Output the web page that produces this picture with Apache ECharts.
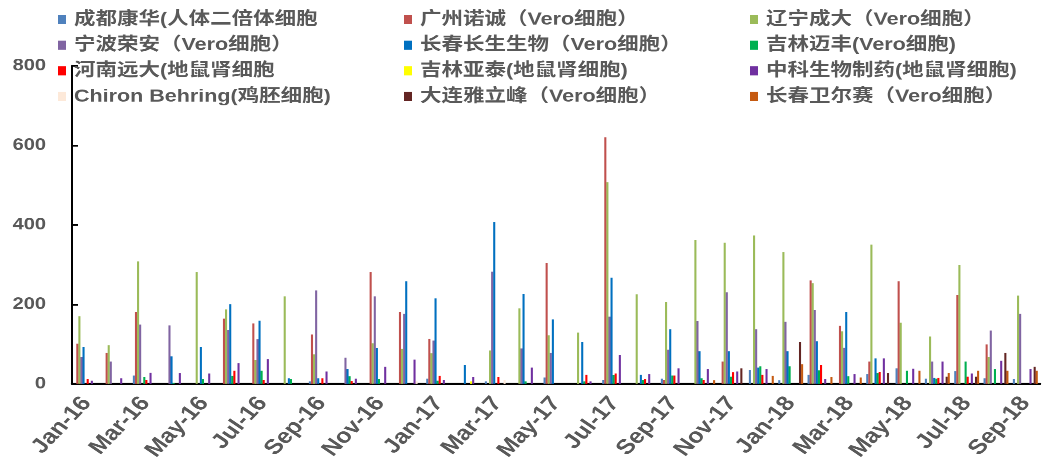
<!DOCTYPE html>
<html>
<head>
<meta charset="utf-8">
<script src="https://cdn.jsdelivr.net/npm/echarts@6/dist/echarts.min.js"></script>
<style>
  html, body { margin: 0; padding: 0; background: #ffffff; }
  #frame { width: 1046px; height: 463px; overflow: hidden; position: relative; }
  /* the chart is laid out taller and pressed down to the frame height */
  #chart { width: 1046px; height: 556px; transform: scale(1, 0.83273); transform-origin: 0 0; }
</style>
</head>
<body>
<div id="frame"><div id="chart"></div></div>
<script>
// Monthly batches released per producer, Jan-16 .. Sep-18
const months = [
  'Jan-16','Feb-16','Mar-16','Apr-16','May-16','Jun-16','Jul-16','Aug-16','Sep-16','Oct-16','Nov-16','Dec-16',
  'Jan-17','Feb-17','Mar-17','Apr-17','May-17','Jun-17','Jul-17','Aug-17','Sep-17','Oct-17','Nov-17','Dec-17',
  'Jan-18','Feb-18','Mar-18','Apr-18','May-18','Jun-18','Jul-18','Aug-18','Sep-18'
];

const yTicks = [0, 200, 400, 600, 800];

const chengduKanghua = [null,null,21,null,null,null,null,null,6,null,null,null,13,null,6,null,16,null,10,null,13,null,null,35,9,23,null,24,39,13,32,14,12];
const guangzhouNuocheng = [101,78,180,null,null,164,152,null,124,null,281,180,113,null,null,null,304,null,620,null,10,null,56,null,null,260,146,56,258,null,224,99,null];
const liaoningChengda = [170,97,308,null,281,187,60,220,74,null,102,88,77,null,84,190,122,129,507,225,206,362,355,373,331,253,132,350,154,119,299,67,222];
const ningboRongan = [67,56,149,147,null,135,112,null,235,66,220,176,109,null,282,89,78,null,169,null,86,158,230,137,156,186,91,null,null,56,null,134,176];
const changchunChangsheng = [92,null,null,69,92,200,159,14,14,37,90,258,215,47,407,226,162,105,267,23,137,82,82,41,82,107,180,64,null,15,null,null,null];
const jilinMaifeng = [null,null,17,3,12,20,33,12,null,19,12,null,8,null,null,6,null,6,22,10,21,14,18,44,44,34,19,27,33,13,56,37,null];
const henanYuanda = [12,null,10,null,null,33,10,null,14,7,null,null,20,null,17,null,null,23,26,12,21,10,29,23,null,47,null,30,null,15,18,null,null];
const jilinYatai = [null,null,null,null,null,null,null,null,null,null,null,null,null,6,null,null,null,null,null,null,null,null,null,null,null,null,null,null,null,null,null,null,null];
const zhongkeBio = [8,14,28,27,26,52,62,null,31,13,43,61,10,17,null,41,null,6,73,24,39,37,31,37,null,12,24,64,38,56,26,58,37];
const chironBehring = [null,null,null,null,null,null,null,null,null,null,null,6,null,null,10,null,null,null,null,null,null,null,null,null,null,null,null,null,null,null,null,null,null];
const dalianYalifeng = [null,null,null,null,null,null,null,null,null,null,null,null,null,null,null,null,null,null,null,null,null,null,39,null,105,null,null,27,null,18,18,78,43];
const changchunWeiersai = [null,null,null,null,null,null,null,null,null,null,null,null,null,null,null,null,null,null,null,null,null,9,null,20,49,17,16,null,33,27,33,33,33];

const seriesNames = [
  '成都康华(人体二倍体细胞', '广州诺诚（Vero细胞）', '辽宁成大（Vero细胞）',
  '宁波荣安（Vero细胞）', '长春长生生物（Vero细胞）', '吉林迈丰(Vero细胞)',
  '河南远大(地鼠肾细胞', '吉林亚泰(地鼠肾细胞)', '中科生物制药(地鼠肾细胞)',
  'Chiron Behring(鸡胚细胞)', '大连雅立峰（Vero细胞）', '长春卫尔赛（Vero细胞）'
];
const seriesValues = [
  chengduKanghua, guangzhouNuocheng, liaoningChengda,
  ningboRongan, changchunChangsheng, jilinMaifeng,
  henanYuanda, jilinYatai, zhongkeBio,
  chironBehring, dalianYalifeng, changchunWeiersai
];
const seriesColors = [
  '#4F81BD', '#C0504D', '#9BBB59',
  '#8064A2', '#0070C0', '#00B050',
  '#FF0000', '#FFFF00', '#7030A0',
  '#FDE9D9', '#632523', '#C55A11'
];

const fontLatinCjk = "Arial, 'Liberation Sans', 'Noto Sans CJK SC', sans-serif";
const grey = '#595959';

// legend laid out in three columns, four rows
function legendColumn(left, col) {
  return {
    orient: 'vertical',
    left: left,
    top: 11.5,
    padding: 0,
    itemGap: 6.8,
    itemWidth: 8,
    itemHeight: 11,
    icon: 'rect',
    selectedMode: false,
    textStyle: {
      fontFamily: fontLatinCjk,
      fontSize: 21.5,
      fontWeight: 'bold',
      color: grey,
      lineHeight: 24,
      padding: [0, 0, 0, 3]
    },
    data: [0, 1, 2, 3].map(r => seriesNames[r * 3 + col])
  };
}

const chart = echarts.init(document.getElementById('chart'), null, { devicePixelRatio: 2 });

chart.setOption({
  animation: false,
  backgroundColor: '#ffffff',
  legend: [legendColumn(58, 0), legendColumn(404, 1), legendColumn(750, 2)],
  grid: { left: 72, right: 6, top: 78.9, bottom: 92.8, containLabel: false },
  xAxis: {
    type: 'category',
    data: months,
    boundaryGap: true,
    axisLine: { lineStyle: { color: '#000000', width: 2.4 } },
    axisTick: { inside: true, interval: 1, length: 7, lineStyle: { color: '#000000', width: 2 } },
    axisLabel: {
      interval: 1,
      rotate: 51,
      margin: 19,
      fontFamily: fontLatinCjk,
      fontSize: 25,
      fontWeight: 'bold',
      color: grey
    },
    splitLine: { show: false }
  },
  yAxis: {
    type: 'value',
    min: yTicks[0],
    max: yTicks[yTicks.length - 1],
    interval: yTicks[1] - yTicks[0],
    axisLine: { show: true, lineStyle: { color: '#000000', width: 2 } },
    axisTick: { show: true, inside: true, length: 6, lineStyle: { color: '#000000', width: 2 } },
    axisLabel: {
      margin: 26,
      fontFamily: fontLatinCjk,
      fontSize: 20,
      fontWeight: 'bold',
      color: grey
    },
    splitLine: { show: false }
  },
  series: seriesNames.map((name, i) => ({
    name: name,
    type: 'bar',
    data: seriesValues[i],
    barGap: '0%',
    barCategoryGap: '15%',
    itemStyle: { color: seriesColors[i] }
  }))
});
</script>
</body>
</html>
